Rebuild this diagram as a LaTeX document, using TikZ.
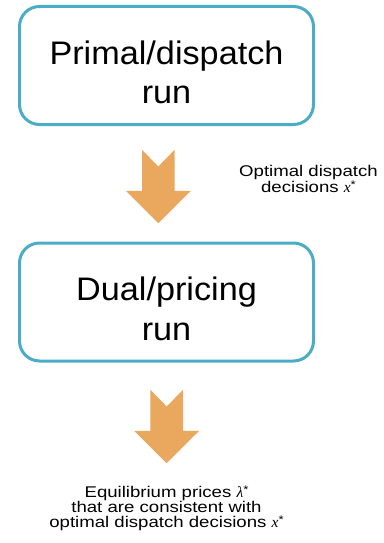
\documentclass[tikz,border=0pt]{standalone}
\usepackage{fontspec}
\setmainfont{Liberation Sans}
\newfontfamily\boxfont[FakeStretch=1.05]{Liberation Sans}
\newfontfamily\notefont[FakeStretch=1.2]{Liberation Sans}
\newfontfamily\symbfont{Liberation Serif}
\usetikzlibrary{calc}

\definecolor{runblue}{HTML}{4BACC6}
\definecolor{flowarrow}{HTML}{E9A85D}
\newcommand{\runstrut}{\rule{0pt}{37pt}}
\newcommand{\starred}[1]{{\symbfont\itshape #1}\raisebox{0.3em}{\fontsize{11}{11}\selectfont *}}

\begin{document}
\begin{tikzpicture}[
    x=1pt, y=-1pt,
    runbox/.style={draw=runblue, line width=3pt, rounded corners=20pt, fill=white,
        minimum width=294pt, minimum height=118pt, inner sep=0pt, align=center,
        font=\boxfont\fontsize{32.6}{39.5}\selectfont}, % Style for the two runs
    note/.style={inner sep=0pt, align=center,
        font=\notefont\fontsize{15.5}{15}\selectfont}, % Style for the small texts
    downarrow/.pic={\fill[flowarrow] (-16.3,0) -- (0,16.7) -- (16.3,0) -- (16.3,41)
        -- (32.5,41) -- (0,73.4) -- (-32.5,41) -- (-16.3,41) -- cycle;} % Block arrow
]
\useasboundingbox (0,0) rectangle (383,543);

% The two runs
\node[runbox] (primal) at (166.5,65.5) {\runstrut Primal/dispatch\\run};
\node[runbox] (dual)   at (166.5,302)  {\runstrut Dual/pricing\\run};

% Block arrows below each run
\pic at ($(primal.south)+(-8.2,23.8)$) {downarrow};
\pic at ($(dual.south)+(0.2,27.3)$) {downarrow};

% What each run hands on
\node[note] (xstar) at (308.5,179) {Optimal dispatch\\decisions \starred{x}};
\node[note] (lambdastar) at (166.5,508.3) {Equilibrium prices \starred{λ}\\that are consistent with\\optimal dispatch decisions \starred{x}};

\end{tikzpicture}
\end{document}
